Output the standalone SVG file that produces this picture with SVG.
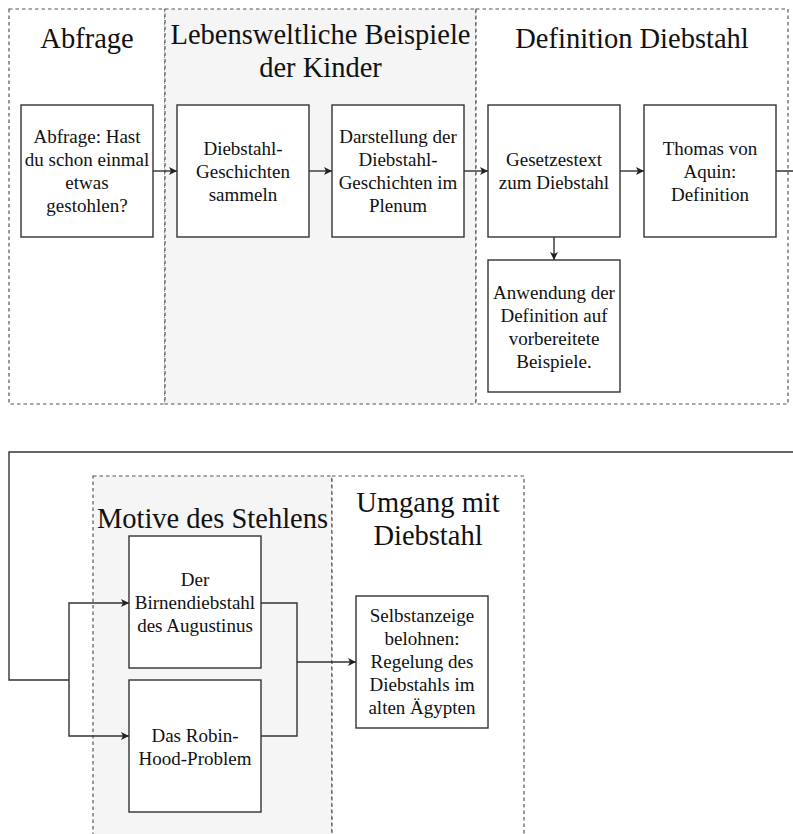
<svg xmlns="http://www.w3.org/2000/svg" width="793" height="834" viewBox="0 0 793 834">
<defs>
<marker id="arr" viewBox="0 0 10 10" refX="10" refY="5" markerWidth="8" markerHeight="8" markerUnits="userSpaceOnUse" orient="auto">
<path d="M0,0 L10,5 L0,10 L2.5,5 Z" fill="#222"/>
</marker>
</defs>
<style>
.lane{stroke:#555;stroke-width:1.2;stroke-dasharray:3.5,3;}
.white{fill:#fff;}
.grey{fill:#f5f5f5;}
.box{fill:#fff;stroke:#333;stroke-width:1.4;}
.title{font-family:"Liberation Serif","Times New Roman",serif;font-size:28.5px;fill:#111;text-anchor:middle;}
.t{font-family:"Liberation Serif","Times New Roman",serif;font-size:19px;fill:#111;text-anchor:middle;}
.c{fill:none;stroke:#333;stroke-width:1.4;}
</style>
<rect width="793" height="834" fill="#fff"/>

<g id="lanes">
<g id="lane-abfrage">
<rect class="lane white" x="9" y="9" width="156" height="395"/>
<text class="title" x="87" y="48">Abfrage</text>
</g>
<g id="lane-beispiele">
<rect class="lane grey" x="165" y="9" width="311" height="395"/>
<text class="title" x="320.5" y="44">Lebensweltliche Beispiele</text>
<text class="title" x="320.5" y="77">der Kinder</text>
</g>
<g id="lane-definition">
<rect class="lane white" x="476" y="9" width="312" height="395"/>
<text class="title" x="632" y="48">Definition Diebstahl</text>
</g>
<g id="lane-motive">
<rect class="lane grey" x="93" y="476" width="239" height="370"/>
<text class="title" x="212.5" y="528">Motive des Stehlens</text>
</g>
<g id="lane-umgang">
<rect class="lane white" x="332" y="476" width="192" height="370"/>
<text class="title" x="428" y="512">Umgang mit</text>
<text class="title" x="428" y="545">Diebstahl</text>
</g>
</g>

<g id="connectors">
<path class="c" d="M153,171 H177" marker-end="url(#arr)"/>
<path class="c" d="M309,171 H332" marker-end="url(#arr)"/>
<path class="c" d="M464,171 H488" marker-end="url(#arr)"/>
<path class="c" d="M620,171 H644" marker-end="url(#arr)"/>
<path class="c" d="M554,237 V260" marker-end="url(#arr)"/>
<path class="c" d="M776,171 H800 V452 H9 V680 H69"/>
<path class="c" d="M69,680 V603 H129" marker-end="url(#arr)"/>
<path class="c" d="M69,680 V736 H129" marker-end="url(#arr)"/>
<path class="c" d="M261,603 H297 V736 H261"/>
<path class="c" d="M297,662 H356" marker-end="url(#arr)"/>
</g>

<g id="n1">
<rect class="box" x="21" y="105" width="132" height="132"/>
<text class="t" x="87" y="143">Abfrage: Hast</text>
<text class="t" x="87" y="166">du schon einmal</text>
<text class="t" x="87" y="189">etwas</text>
<text class="t" x="87" y="212">gestohlen?</text>
</g>
<g id="n2">
<rect class="box" x="177" y="105" width="132" height="132"/>
<text class="t" x="243" y="155">Diebstahl-</text>
<text class="t" x="243" y="178">Geschichten</text>
<text class="t" x="243" y="201">sammeln</text>
</g>
<g id="n3">
<rect class="box" x="332" y="105" width="132" height="132"/>
<text class="t" x="398" y="143">Darstellung der</text>
<text class="t" x="398" y="166">Diebstahl-</text>
<text class="t" x="398" y="189">Geschichten im</text>
<text class="t" x="398" y="212">Plenum</text>
</g>
<g id="n4">
<rect class="box" x="488" y="105" width="132" height="132"/>
<text class="t" x="554" y="166">Gesetzestext</text>
<text class="t" x="554" y="189">zum Diebstahl</text>
</g>
<g id="n5">
<rect class="box" x="644" y="105" width="132" height="132"/>
<text class="t" x="710" y="155">Thomas von</text>
<text class="t" x="710" y="178">Aquin:</text>
<text class="t" x="710" y="201">Definition</text>
</g>
<g id="n6">
<rect class="box" x="488" y="260" width="132" height="132"/>
<text class="t" x="554" y="299">Anwendung der</text>
<text class="t" x="554" y="322">Definition auf</text>
<text class="t" x="554" y="345">vorbereitete</text>
<text class="t" x="554" y="368">Beispiele.</text>
</g>
<g id="n7">
<rect class="box" x="129" y="536" width="132" height="132"/>
<text class="t" x="195" y="586">Der</text>
<text class="t" x="195" y="609">Birnendiebstahl</text>
<text class="t" x="195" y="632">des Augustinus</text>
</g>
<g id="n8">
<rect class="box" x="129" y="680" width="132" height="132"/>
<text class="t" x="195" y="742">Das Robin-</text>
<text class="t" x="195" y="765">Hood-Problem</text>
</g>
<g id="n9">
<rect class="box" x="356" y="596" width="132" height="132"/>
<text class="t" x="422" y="622">Selbstanzeige</text>
<text class="t" x="422" y="645">belohnen:</text>
<text class="t" x="422" y="668">Regelung des</text>
<text class="t" x="422" y="691">Diebstahls im</text>
<text class="t" x="422" y="714">alten Ägypten</text>
</g>
</svg>
